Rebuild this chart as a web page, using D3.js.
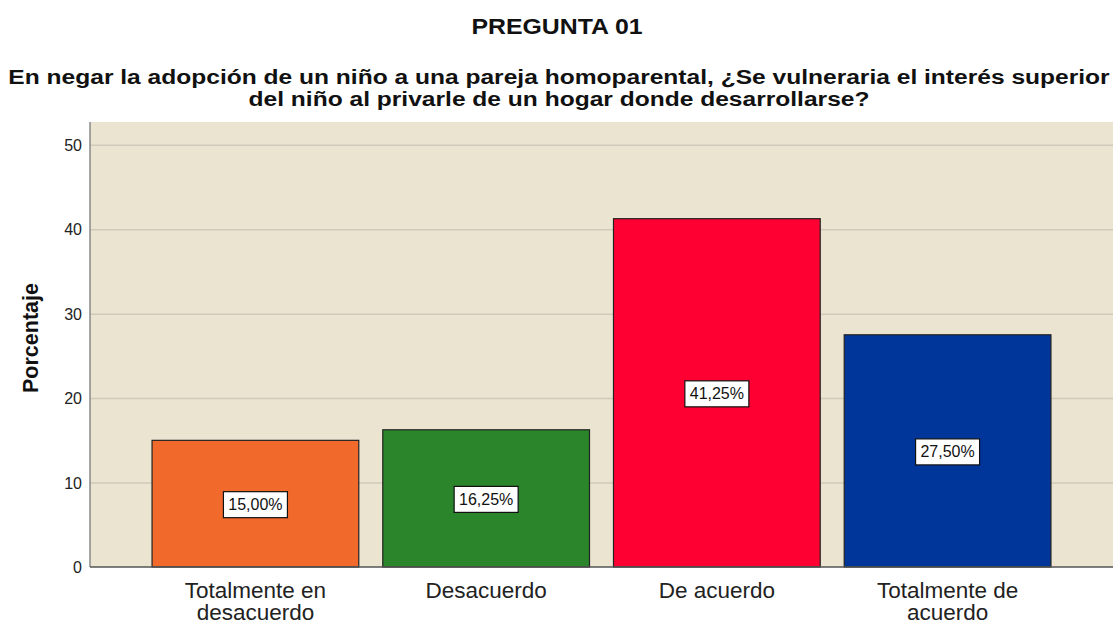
<!DOCTYPE html>
<html lang="es">
<head>
<meta charset="UTF-8">
<title>PREGUNTA 01</title>
<style>
  body { margin: 0; background: #fff; }
  svg text { font-family: "Liberation Sans", Arial, sans-serif; }
  .grid line { stroke: #cfcab9; stroke-width: 1.5px; }
  .grid path { display: none; }
</style>
</head>
<body>
<svg width="1113" height="625"></svg>
<script src="https://d3js.org/d3.v7.min.js"></script>
<script>
const categories = [["Totalmente en", "desacuerdo"], ["Desacuerdo"], ["De acuerdo"], ["Totalmente de", "acuerdo"]];
const values = [15.00, 16.25, 41.25, 27.50];
const colors = ["#f2692c", "#2b852b", "#ff0033", "#00359a"];
const yTicks = [0, 10, 20, 30, 40, 50];

const svg = d3.select("svg");
const plotL = 90, plotR = 1113, plotT = 122, plotB = 567;

const x = d3.scaleBand()
    .domain(d3.range(values.length))
    .range([plotL, plotR])
    .paddingInner(0.104)
    .paddingOuter(0.269);

const y = d3.scaleLinear()
    .domain([0, 52.7])
    .range([plotB, plotT]);

// plot background
svg.append("rect")
    .attr("x", plotL).attr("y", plotT)
    .attr("width", plotR - plotL).attr("height", plotB - plotT)
    .attr("fill", "#eae4d0");

// gridlines
svg.append("g")
    .attr("class", "grid")
    .attr("transform", `translate(${plotL},0)`)
    .call(d3.axisLeft(y).tickValues(yTicks.slice(1)).tickSize(-(plotR - plotL)).tickFormat(""));

// bars
svg.append("g")
    .selectAll("rect")
    .data(values)
    .enter().append("rect")
    .attr("x", (d, i) => x(i))
    .attr("y", d => y(d))
    .attr("width", x.bandwidth())
    .attr("height", d => y(0) - y(d))
    .attr("fill", (d, i) => colors[i])
    .attr("stroke", "#222")
    .attr("stroke-width", 1.2);

// value labels
const fmt = d => d.toFixed(2).replace(".", ",") + "%";
const lab = svg.append("g")
    .selectAll("g")
    .data(values)
    .enter().append("g")
    .attr("transform", (d, i) => `translate(${x(i) + x.bandwidth() / 2},${y(d / 2)})`);
lab.append("rect")
    .attr("x", -32).attr("y", -12)
    .attr("width", 64).attr("height", 26)
    .attr("fill", "#fff")
    .attr("stroke", "#111")
    .attr("stroke-width", 1.2);
lab.append("text")
    .attr("text-anchor", "middle")
    .attr("dy", "0.4em")
    .attr("font-size", 16)
    .attr("fill", "#111")
    .text(fmt);

// axes lines
svg.append("line")
    .attr("x1", plotL).attr("x2", plotL)
    .attr("y1", plotT).attr("y2", plotB)
    .attr("stroke", "#8a8a8a").attr("stroke-width", 1.5);
svg.append("line")
    .attr("x1", plotL).attr("x2", plotR)
    .attr("y1", plotB).attr("y2", plotB)
    .attr("stroke", "#555").attr("stroke-width", 1.5);

// y tick labels
svg.append("g")
    .selectAll("text")
    .data(yTicks)
    .enter().append("text")
    .attr("x", 82)
    .attr("y", d => y(d))
    .attr("dy", "0.38em")
    .attr("text-anchor", "end")
    .attr("font-size", 16)
    .attr("fill", "#222")
    .text(d => d);

// category labels
const cat = svg.append("g")
    .selectAll("text")
    .data(categories)
    .enter().append("text")
    .attr("x", (d, i) => x(i) + x.bandwidth() / 2)
    .attr("y", 598)
    .attr("text-anchor", "middle")
    .attr("font-size", 22.5)
    .attr("fill", "#222");
cat.selectAll("tspan")
    .data(d => d)
    .enter().append("tspan")
    .attr("x", function () { return this.parentNode.getAttribute("x"); })
    .attr("dy", (d, i) => i === 0 ? 0 : 22)
    .text(d => d);

// y axis title
svg.append("text")
    .attr("transform", "translate(38,338) rotate(-90)")
    .attr("text-anchor", "middle")
    .attr("font-size", 21.5)
    .attr("font-weight", "bold")
    .attr("fill", "#111")
    .text("Porcentaje");

// titles (slightly wide font in the original, so stretch horizontally)
svg.append("g")
    .attr("transform", "translate(557,34) scale(1.13,1)")
    .append("text")
    .attr("text-anchor", "middle")
    .attr("font-size", 22)
    .attr("font-weight", "bold")
    .attr("fill", "#111")
    .text("PREGUNTA 01");

const sub = svg.append("g")
    .attr("transform", "translate(559,0) scale(1.17,1)")
    .append("text")
    .attr("text-anchor", "middle")
    .attr("font-size", 21)
    .attr("font-weight", "bold")
    .attr("fill", "#111");
sub.append("tspan").attr("x", 0).attr("y", 84)
    .text("En negar la adopción de un niño a una pareja homoparental, ¿Se vulneraria el interés superior");
sub.append("tspan").attr("x", 0).attr("y", 106)
    .text("del niño al privarle de un hogar donde desarrollarse?");
</script>
</body>
</html>
